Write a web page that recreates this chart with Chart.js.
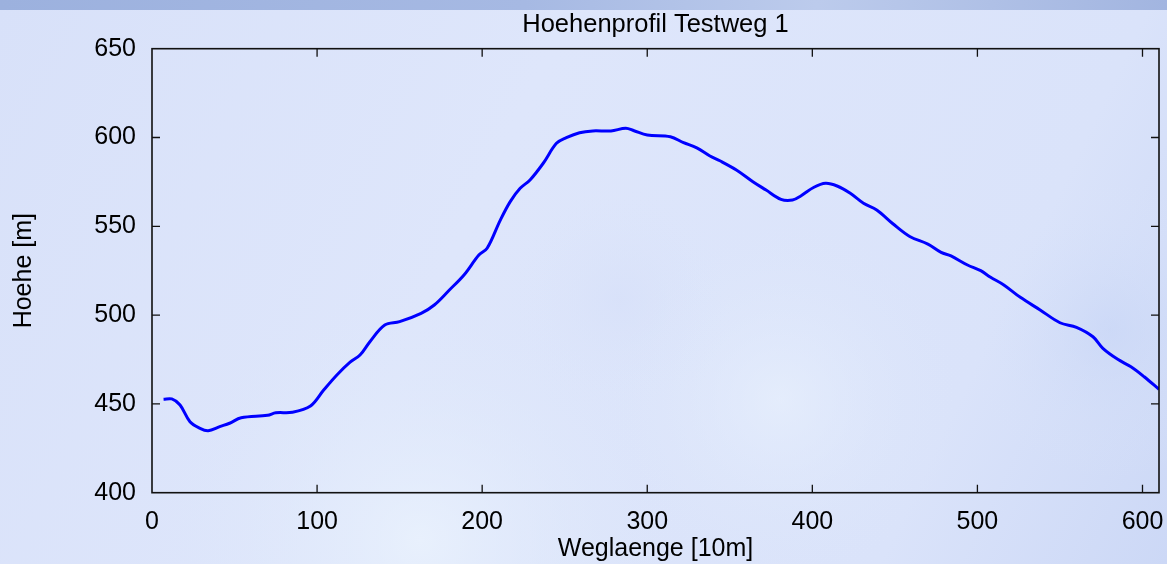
<!DOCTYPE html>
<html>
<head>
<meta charset="utf-8">
<script src="https://cdn.jsdelivr.net/npm/chart.js@4.4.1/dist/chart.umd.min.js"></script>
<style>
  html, body { margin: 0; padding: 0; background: #dbe3f9; }
  #wrap { width: 1167px; height: 564px; position: relative; }
</style>
</head>
<body>
<div id="wrap"><canvas id="profil"></canvas></div>
<script>
// Weglaenge in 10m-Schritten und Hoehe in m
const weglaenge = [7, 12, 17, 23, 29, 34, 41, 47, 54, 70, 75, 85, 96, 104, 112, 120, 126, 132, 141, 150, 163, 171, 180, 189, 198, 203, 211, 217, 223, 229, 237, 245, 251, 259, 267, 278, 287, 292, 300, 314, 322, 330, 338, 344, 354, 364, 372, 381, 388, 393, 401, 408, 415, 423, 431, 439, 449, 459, 470, 478, 484, 494, 502, 508, 516, 526, 538, 550, 560, 570, 576, 585, 593, 601, 610];
const hoehe = [452.6, 452.8, 449.4, 440, 436.3, 434.9, 437.2, 439.1, 442.2, 443.6, 445, 445.3, 448.8, 457.8, 466.3, 473.5, 477.5, 485, 494.4, 496.3, 501, 505.7, 514, 522.6, 533.8, 537.6, 553.5, 563.9, 571.4, 576.1, 585.5, 596.7, 599.9, 602.7, 603.7, 603.7, 605.2, 603.8, 601.4, 600.4, 597.1, 594.2, 589.6, 586.9, 581.7, 575.1, 570.4, 565.2, 564.8, 567.1, 572, 574.2, 572.7, 568.6, 563, 559.2, 551.3, 544.3, 540, 535.3, 533.3, 528.2, 525, 521.3, 517, 510, 502.9, 495.7, 493.1, 487.8, 481.3, 475.1, 470.9, 465.3, 458.2];
const xTicks = [0, 100, 200, 300, 400, 500, 600];
const yTicks = [400, 450, 500, 550, 600, 650];

const FONT = "'Liberation Sans', Arial, sans-serif";

const hintergrund = {
  id: "hintergrund",
  beforeDraw(chart) {
    const ctx = chart.ctx;
    const w = chart.width, h = chart.height;
    ctx.save();
    let g = ctx.createLinearGradient(0, 0, w, h);
    g.addColorStop(0, "#d8e1f9");
    g.addColorStop(0.4, "#dee6fb");
    g.addColorStop(0.8, "#dae3fa");
    g.addColorStop(1, "#ccd8f6");
    ctx.fillStyle = g;
    ctx.fillRect(0, 0, w, h);
    // hellere und dunklere Flecken
    const blob = (x, y, r, col) => {
      const rg = ctx.createRadialGradient(x, y, 0, x, y, r);
      rg.addColorStop(0, col);
      rg.addColorStop(1, "rgba(220,230,250,0)");
      ctx.fillStyle = rg;
      ctx.fillRect(x - r, y - r, 2 * r, 2 * r);
    };
    blob(420, 540, 260, "rgba(234,242,253,0.85)");
    blob(780, 400, 180, "rgba(234,242,253,0.6)");
    blob(1110, 330, 150, "rgba(195,210,245,0.45)");
    blob(620, 300, 120, "rgba(210,220,247,0.4)");
    // Band oben
    g = ctx.createLinearGradient(0, 0, w, 0);
    g.addColorStop(0, "#9cb1de");
    g.addColorStop(0.45, "#a6b9e3");
    g.addColorStop(0.7, "#bccbec");
    g.addColorStop(1, "#a2b5e0");
    ctx.fillStyle = g;
    ctx.fillRect(0, 0, w, 10);
    ctx.restore();
  }
};

// Rahmen mit nach innen zeigenden Ticks auf allen Seiten
const rahmen = {
  id: "rahmen",
  afterDatasetsDraw(chart) {
    const { ctx, chartArea: a, scales } = chart;
    ctx.save();
    ctx.strokeStyle = "#111";
    ctx.lineWidth = 1.6;
    ctx.strokeRect(a.left, a.top, a.right - a.left, a.bottom - a.top);
    ctx.lineWidth = 1.3;
    ctx.beginPath();
    for (const v of xTicks) {
      const px = scales.x.getPixelForValue(v);
      if (px <= a.left + 1) continue;
      ctx.moveTo(px, a.bottom); ctx.lineTo(px, a.bottom - 8);
      ctx.moveTo(px, a.top); ctx.lineTo(px, a.top + 8);
    }
    for (const v of yTicks) {
      const py = scales.y.getPixelForValue(v);
      if (py >= a.bottom - 1 || py <= a.top + 1) continue;
      ctx.moveTo(a.left, py); ctx.lineTo(a.left + 8, py);
      ctx.moveTo(a.right, py); ctx.lineTo(a.right - 8, py);
    }
    ctx.stroke();
    ctx.restore();
  }
};

const punkte = weglaenge.map((x, i) => ({ x, y: hoehe[i] }));

new Chart(document.getElementById("profil"), {
  type: "line",
  data: {
    datasets: [{
      data: punkte,
      borderColor: "#0000ff",
      borderWidth: 3,
      pointRadius: 0,
      tension: 0.35,
      fill: false
    }]
  },
  options: {
    responsive: true,
    maintainAspectRatio: false,
    animation: false,
    layout: { padding: { left: 0, right: 8, top: 0, bottom: 0 } },
    plugins: {
      legend: { display: false },
      tooltip: { enabled: false },
      title: {
        display: true,
        fullSize: false,
        text: "Hoehenprofil Testweg 1",
        color: "#000",
        font: { family: FONT, size: 25.5, weight: "normal", lineHeight: 1.2 },
        padding: { top: 9.2, bottom: 8.9 }
      }
    },
    scales: {
      x: {
        type: "linear",
        min: 0,
        max: 610,
        afterBuildTicks(s) { s.ticks = xTicks.map(v => ({ value: v })); },
        afterFit(s) { s.height = 71.3; s.paddingLeft = 0; s.paddingRight = 0; },
        grid: { display: false, drawTicks: false },
        border: { display: false },
        ticks: {
          color: "#000",
          padding: 14,
          maxRotation: 0,
          font: { family: FONT, size: 25 }
        },
        title: {
          display: true,
          text: "Weglaenge [10m]",
          color: "#000",
          font: { family: FONT, size: 25 },
          padding: { top: 0, bottom: 0 }
        }
      },
      y: {
        type: "linear",
        min: 400,
        max: 650,
        afterBuildTicks(s) { s.ticks = yTicks.map(v => ({ value: v })); },
        afterFit(s) { s.width = 152; s.paddingTop = 0; s.paddingBottom = 0; },
        grid: { display: false, drawTicks: false },
        border: { display: false },
        ticks: {
          color: "#000",
          padding: 16,
          font: { family: FONT, size: 25 }
        },
        title: {
          display: true,
          text: "Hoehe [m]",
          color: "#000",
          font: { family: FONT, size: 25 },
          padding: { top: 9, bottom: 0 }
        }
      }
    }
  },
  plugins: [hintergrund, rahmen]
});
</script>
</body>
</html>
